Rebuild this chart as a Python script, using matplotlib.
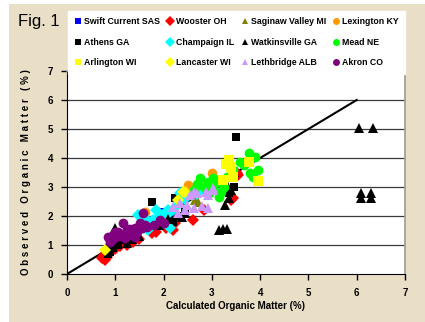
import matplotlib
matplotlib.use("Agg")
import matplotlib.pyplot as plt
from matplotlib.patches import Rectangle
from matplotlib.lines import Line2D

plt.rcParams['font.family'] = ['Liberation Sans', 'DejaVu Sans']

# site names (legend order, row by row)
sites = ["Swift Current SAS", "Wooster OH", "Saginaw Valley MI", "Lexington KY",
         "Athens GA", "Champaign IL", "Watkinsville GA", "Mead NE",
         "Arlington WI", "Lancaster WI", "Lethbridge ALB", "Akron CO"]

swift_x = [1.97, 2.10]
swift_y = [2.14, 2.05]
wooster_x = [0.72, 0.79, 0.83, 0.76, 0.90, 1.10, 1.25, 1.37, 1.50, 1.77, 1.85, 2.04,
             2.20, 2.24, 2.60, 2.83, 3.39, 3.43, 3.53, 3.55, 1.00]
wooster_y = [0.55, 0.48, 0.59, 0.65, 0.75, 0.95, 1.00, 1.10, 1.20, 1.41, 1.45, 1.59,
             1.52, 1.76, 1.86, 2.20, 2.55, 2.62, 3.48, 3.41, 0.85]
saginaw_x = [2.72, 2.65]
saginaw_y = [2.48, 2.55]
lexington_x = [1.62, 2.51, 3.01]
lexington_y = [2.14, 3.07, 3.48]
athens_x = [0.85, 0.89, 0.95, 1.05, 1.77, 2.24, 2.18, 2.20, 2.30, 3.49, 3.40, 3.45, 3.35, 2.45]
athens_y = [0.70, 0.76, 0.90, 1.00, 2.48, 2.62, 2.03, 1.79, 2.00, 4.72, 3.30, 3.00, 2.80, 2.20]
champaign_x = [1.45, 1.47, 1.55, 1.66, 1.68, 1.72, 1.79, 1.89, 1.93, 2.03, 2.08, 2.10,
               2.14, 2.20, 2.30, 2.35, 2.45, 2.60, 2.70, 2.76, 1.60, 1.85, 2.25]
champaign_y = [1.52, 2.03, 1.75, 1.86, 1.52, 1.69, 1.86, 1.86, 2.03, 2.10, 2.03, 2.20,
               1.59, 2.20, 2.40, 2.79, 2.60, 2.83, 2.75, 2.90, 1.60, 2.20, 2.30]
watkins_x = [0.80, 0.93, 1.00, 1.04, 1.10, 1.25, 1.35, 1.50, 1.90, 2.10, 2.39, 2.45,
             3.14, 3.24, 3.32, 3.28, 3.35, 3.39, 3.45, 3.32,
             6.04, 6.33, 6.08, 6.08, 6.30, 6.30]
watkins_y = [0.90, 1.07, 1.59, 1.10, 1.20, 1.07, 1.20, 1.30, 1.70, 1.90, 1.97, 2.10,
             1.52, 1.55, 1.55, 2.38, 2.62, 2.90, 3.52, 3.07,
             5.03, 5.03, 2.80, 2.62, 2.80, 2.62]
mead_x = [2.62, 2.76, 2.83, 2.91, 3.03, 3.03, 3.14, 3.14, 3.18, 3.32, 3.43, 3.59,
          3.66, 3.76, 3.80, 3.86, 3.90, 3.95, 2.70, 2.95, 3.25]
mead_y = [2.90, 3.31, 3.00, 3.17, 3.31, 3.00, 3.17, 2.66, 2.83, 3.34, 3.59, 3.86,
          3.76, 4.17, 3.48, 3.34, 4.03, 3.59, 3.10, 2.80, 3.00]
arlington_x = [3.35, 3.39, 3.76, 3.95, 3.24, 3.43, 3.30]
arlington_y = [3.93, 3.69, 3.86, 3.21, 3.24, 3.34, 3.80]
lancaster_x = [0.79, 2.41, 2.45, 2.30]
lancaster_y = [0.83, 2.83, 2.83, 2.55]
lethbridge_x = [2.20, 2.35, 2.45, 2.49, 2.55, 2.62, 2.62, 2.70, 2.80, 2.87, 2.91,
                2.93, 3.03, 3.03, 2.30]
lethbridge_y = [2.31, 2.45, 2.20, 2.38, 2.72, 2.83, 2.28, 2.79, 2.35, 2.83, 2.72,
                2.28, 2.90, 2.97, 2.10]
akron_x = [0.85, 0.90, 0.95, 1.00, 1.00, 1.06, 1.10, 1.16, 1.20, 1.27, 1.30, 1.35, 1.41,
           1.41, 1.45, 1.52, 1.56, 1.58, 1.62, 1.66, 1.80, 1.93, 2.00, 0.95, 1.15, 1.25]
akron_y = [1.28, 1.10, 1.35, 1.28, 1.45, 1.45, 1.30, 1.76, 1.24, 1.45, 1.55, 1.35, 1.59,
           1.28, 1.45, 1.76, 1.59, 2.10, 1.69, 1.62, 1.70, 1.86, 1.76, 1.20, 1.35, 1.55]

# 1:1 line
line_x = [0, 6]
line_y = [0, 6]

series = [
    (swift_x, swift_y, 's', '#0000ff', 6),
    (wooster_x, wooster_y, 'D', '#ff0000', 6),
    (saginaw_x, saginaw_y, '^', '#808000', 7),
    (lexington_x, lexington_y, 'o', '#ff9900', 7),
    (athens_x, athens_y, 's', '#000000', 6),
    (champaign_x, champaign_y, 'D', '#00ffff', 6),
    (watkins_x, watkins_y, '^', '#000000', 7),
    (mead_x, mead_y, 'o', '#00ff00', 7),
    (arlington_x, arlington_y, 's', '#ffff00', 7),
    (lancaster_x, lancaster_y, 'D', '#ffff00', 6),
    (lethbridge_x, lethbridge_y, '^', '#cc99ff', 7.5),
    (akron_x, akron_y, 'o', '#800080', 7),
]

W, H = 425, 322
fig = plt.figure(figsize=(W / 100, H / 100), dpi=100)
fig.patch.set_facecolor('white')
# parchment background
fig.patches.append(Rectangle((9 / W, 0), 1 - 9 / W, 1 - 4 / H, transform=fig.transFigure,
                             facecolor='#e9dfc6', edgecolor='none', zorder=-10))

ax = fig.add_axes([67 / W, 1 - 274 / H, 338 / W, 203 / H])
ax.set_facecolor('white')

for y in range(1, 7):
    ax.axhline(y, color='#3a3a3a', lw=0.9, zorder=1)

ax.plot(line_x, line_y, color='black', lw=1.5, zorder=2)

handles = []
for (xs, ys, m, c, ms), name in zip(series, sites):
    ax.plot(xs, ys, linestyle='none', marker=m, color=c, markersize=ms,
            markeredgewidth=0, zorder=3)
    handles.append(Line2D([], [], linestyle='none', marker=m, color=c,
                          markersize=5, markeredgewidth=0))

ax.set_xlim(0, 7)
ax.set_ylim(0, 7)
ax.set_xticks(range(8))
ax.set_yticks(range(8))
ax.tick_params(direction='out', length=4, width=1, labelsize=7, pad=6)
for lab in ax.get_xticklabels() + ax.get_yticklabels():
    lab.set_fontweight('bold')
ax.spines['left'].set_color('black')
ax.spines['bottom'].set_color('black')
ax.spines['top'].set_color('#9a9a9a')
ax.spines['right'].set_color('#9a9a9a')
ax.spines['top'].set_linewidth(1.2)
ax.spines['right'].set_linewidth(1.2)

ax.set_xlabel('Calculated Organic Matter (%)', fontsize=7, fontweight='bold', labelpad=2)
ax.set_ylabel('O b s e r v e d   O r g a n i c   M a t t e r   ( % )', fontsize=7,
              fontweight='bold', labelpad=12)

# legend: matplotlib fills columns first, so reorder row-wise entries
order = [0, 4, 8, 1, 5, 9, 2, 6, 10, 3, 7, 11]
leg = fig.legend([handles[i] for i in order], [sites[i] for i in order], ncol=4,
                 loc='upper left', bbox_to_anchor=(68 / W, 1 - 11 / H, 337 / W, 0.001),
                 mode='expand', frameon=True, fancybox=False, edgecolor='white',
                 facecolor='white', framealpha=1, borderaxespad=0,
                 prop={'size': 6.3, 'weight': 'bold'}, handlelength=0.8,
                 handletextpad=0.3, labelspacing=1.35, borderpad=0.7, columnspacing=0.5)

fig.text(18 / W, 1 - 26 / H, 'Fig. 1', fontsize=12)

fig.savefig('out.png', dpi=100)
